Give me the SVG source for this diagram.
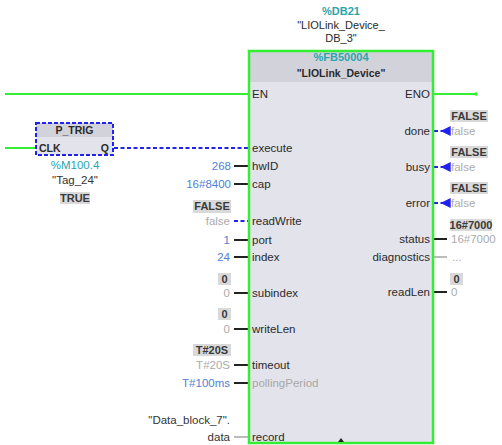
<svg xmlns="http://www.w3.org/2000/svg" width="502" height="445" viewBox="0 0 502 445">
<defs>
<style>
text{font-family:"Liberation Sans",Arial,sans-serif;font-size:11px}
.pin{fill:#2a2a2a;font-size:11.5px}
.pinr{fill:#2a2a2a;font-size:11.5px;text-anchor:end}
.dim{fill:#a8a8a8}
.val{fill:#4f7fd8;text-anchor:end;font-size:11.5px}
.gr{fill:#ababab;text-anchor:end;font-size:11.5px}
.grl{fill:#ababab;font-size:11.5px}
.dk{fill:#333;text-anchor:end;font-size:11.5px}
.teal{fill:#2aa5ad;text-anchor:middle;font-weight:bold}
.title{fill:#2a2a2a;text-anchor:middle}
.box{fill:#d9d9d9}
.boxt{fill:#3a3a3a;font-weight:bold;text-anchor:middle;font-size:11px}
.green{stroke:#33ee33;stroke-width:2;fill:none}
.blk{stroke:#222;stroke-width:2;fill:none}
.gry{stroke:#bbbbbb;stroke-width:2;fill:none}
.dash{stroke:#2222ee;stroke-width:2;fill:none;stroke-dasharray:4 2.5}
</style>
<marker id="arrL" viewBox="0 0 6 6" refX="5" refY="3" markerWidth="5" markerHeight="5" orient="auto">
<path d="M6,0 L0,3 L6,6 Z" fill="#2222ee"/>
</marker>
</defs>
<rect width="502" height="445" fill="#ffffff"/>

<g id="connectors">
<line class="green" x1="5" y1="94" x2="249" y2="94"/>
<line class="green" x1="5" y1="148" x2="36" y2="148"/>
<line class="green" x1="433" y1="94" x2="476" y2="94"/>
<circle cx="476" cy="94" r="1.8" fill="#33ee33"/>
<line class="dash" x1="114" y1="148" x2="249" y2="148"/>
<line class="blk" x1="234" y1="166" x2="249" y2="166"/>
<line class="blk" x1="234" y1="184" x2="249" y2="184"/>
<line class="dash" x1="234" y1="221" x2="249" y2="221"/>
<line class="blk" x1="234" y1="240" x2="249" y2="240"/>
<line class="blk" x1="234" y1="257" x2="249" y2="257"/>
<line class="blk" x1="234" y1="293" x2="249" y2="293"/>
<line class="blk" x1="234" y1="329" x2="249" y2="329"/>
<line class="blk" x1="234" y1="365" x2="249" y2="365"/>
<line class="blk" x1="234" y1="383" x2="249" y2="383"/>
<line class="gry" x1="234" y1="437" x2="249" y2="437"/>
<line class="dash" x1="434" y1="131" x2="449" y2="131" marker-end="url(#arrL)"/>
<line class="dash" x1="434" y1="167" x2="449" y2="167" marker-end="url(#arrL)"/>
<line class="dash" x1="434" y1="203" x2="449" y2="203" marker-end="url(#arrL)"/>
<line class="blk" x1="434" y1="239" x2="447" y2="239"/>
<line class="gry" x1="434" y1="257" x2="447" y2="257"/>
<line class="blk" x1="434" y1="292" x2="447" y2="292"/>
</g>

<g id="fb_block">
<text class="teal" x="341" y="15">%DB21</text>
<text class="title" x="341" y="29">"LIOLink_Device_</text>
<text class="title" x="341" y="42">DB_3"</text>
<rect x="249" y="51" width="184" height="392" fill="#e3e3eb"/>
<rect x="249" y="51" width="184" height="31" fill="#d2d2da"/>
<rect x="249" y="51" width="184" height="392" fill="none" stroke="#33ee33" stroke-width="2.5"/>
<text class="teal" x="341" y="61">%FB50004</text>
<text class="title" x="341" y="77" style="font-weight:bold;font-size:10.5px">"LIOLink_Device"</text>
<text class="pin" x="252" y="98">EN</text>
<text class="pin" x="252" y="152">execute</text>
<text class="pin" x="252" y="170">hwID</text>
<text class="pin" x="252" y="188">cap</text>
<text class="pin" x="252" y="225">readWrite</text>
<text class="pin" x="252" y="244">port</text>
<text class="pin" x="252" y="261">index</text>
<text class="pin" x="252" y="297">subindex</text>
<text class="pin" x="252" y="333">writeLen</text>
<text class="pin" x="252" y="369">timeout</text>
<text class="pin dim" x="252" y="387">pollingPeriod</text>
<text class="pin" x="252" y="441">record</text>
<text class="pinr" x="430" y="98">ENO</text>
<text class="pinr" x="430" y="135">done</text>
<text class="pinr" x="430" y="171">busy</text>
<text class="pinr" x="430" y="207">error</text>
<text class="pinr" x="430" y="243">status</text>
<text class="pinr" x="430" y="261">diagnostics</text>
<text class="pinr" x="430" y="296">readLen</text>
<path d="M338,442 L341,438 L344,442 Z" fill="#222"/>
</g>

<g id="p_trig">
<rect x="36" y="123" width="77" height="32" fill="#e3e3eb"/>
<rect x="36" y="123" width="77" height="14" fill="#d2d2da"/>
<rect x="36" y="123" width="77" height="32" fill="none" stroke="#2222ee" stroke-width="2" stroke-dasharray="4 2"/>
<text x="74.5" y="134" style="fill:#2a2a2a;text-anchor:middle;font-weight:bold;font-size:10.5px">P_TRIG</text>
<text x="39" y="152" style="fill:#2a2a2a;font-weight:bold;font-size:10.5px">CLK</text>
<text x="109" y="152" style="fill:#2a2a2a;font-weight:bold;font-size:10.5px;text-anchor:end">Q</text>
<text class="teal" x="75" y="169" style="font-weight:normal;font-size:11.5px">%M100.4</text>
<text x="75" y="184" style="fill:#333;text-anchor:middle;font-size:11.5px">"Tag_24"</text>
<rect class="box" x="60" y="192" width="30" height="12"/>
<text class="boxt" x="75" y="202">TRUE</text>
</g>

<g id="inputs">
<text class="val" x="231" y="170">268</text>
<text class="val" x="231" y="188">16#8400</text>
<rect class="box" x="193" y="200" width="38" height="13"/>
<text class="boxt" x="212" y="210">FALSE</text>
<text class="gr" x="230" y="225">false</text>
<text class="val" x="230" y="244">1</text>
<text class="val" x="230" y="261">24</text>
<rect class="box" x="218" y="273" width="13" height="12"/>
<text class="boxt" x="224.5" y="283">0</text>
<text class="gr" x="230" y="297">0</text>
<rect class="box" x="218" y="308" width="13" height="12"/>
<text class="boxt" x="224.5" y="318">0</text>
<text class="gr" x="230" y="333">0</text>
<rect class="box" x="193" y="344" width="38" height="12"/>
<text class="boxt" x="212" y="354">T#20S</text>
<text class="gr" x="230" y="369">T#20S</text>
<text class="val" x="230" y="387">T#100ms</text>
<text class="dk" x="230" y="424">"Data_block_7".</text>
<text class="dk" x="230" y="441">data</text>
</g>

<g id="outputs">
<rect class="box" x="450" y="110" width="38" height="12"/>
<text class="boxt" x="469" y="120">FALSE</text>
<text class="grl" x="451" y="135">false</text>
<rect class="box" x="450" y="146" width="38" height="12"/>
<text class="boxt" x="469" y="156">FALSE</text>
<text class="grl" x="451" y="171">false</text>
<rect class="box" x="450" y="182" width="38" height="12"/>
<text class="boxt" x="469" y="192">FALSE</text>
<text class="grl" x="451" y="207">false</text>
<rect class="box" x="450" y="219" width="42" height="12"/>
<text class="boxt" x="471" y="229">16#7000</text>
<text class="grl" x="451" y="243">16#7000</text>
<text class="grl" x="452" y="261">...</text>
<rect class="box" x="450" y="273" width="13" height="12"/>
<text class="boxt" x="456.5" y="283">0</text>
<text class="grl" x="451" y="296">0</text>
</g>
</svg>
